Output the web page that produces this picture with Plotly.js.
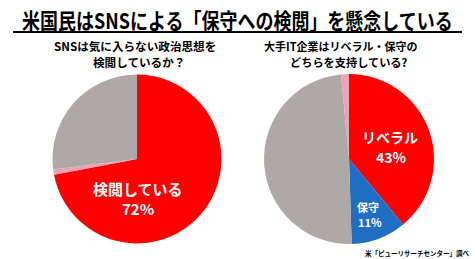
<!DOCTYPE html>
<html>
<head>
<meta charset="utf-8">
<script src="https://cdn.plot.ly/plotly-3.0.1.min.js"></script>
<style>
html,body{margin:0;padding:0;background:#fff;}
#chart{width:475px;height:259px;}
</style>
</head>
<body>
<div id="chart"></div>
<script>
// ---- data ----
const mainTitle = '米国民はSNSによる「保守への検閲」を懸念している';
const leftQuestion = ['SNSは気に入らない政治思想を', '検閲しているか？'];
const rightQuestion = ['大手IT企業はリベラル・保守の', 'どちらを支持している?'];
const leftLabels = ['検閲している', '無回答', 'その他'];
const leftValues = [72, 1, 27];
const leftPctText = ['72%'];
const rightLabels = ['リベラル', '保守', 'その他', '無回答'];
const rightValues = [39, 10.5, 49, 1.5];
const rightPctText = ['43%', '11%'];
const sourceNote = '米「ピューリサーチセンター」調べ';

// ---- helpers ----
const W = 475, H = 259;
const px = x => x / W;
const py = y => 1 - y / H;
const FONT = '"Noto Sans CJK JP", "Noto Sans", sans-serif';

function ann(text, x, y, size, color, extra) {
  return Object.assign({
    text: text, x: px(x), y: py(y), xref: 'paper', yref: 'paper',
    xanchor: 'center', yanchor: 'middle', showarrow: false,
    font: {family: FONT, size: size, color: color, weight: 700}
  }, extra || {});
}

const traces = [
  {
    type: 'pie', labels: leftLabels, values: leftValues,
    sort: false, direction: 'clockwise', rotation: 0,
    textinfo: 'none', hoverinfo: 'label+value',
    marker: {colors: ['#FF0000', '#F4A0B4', '#AEA9A6'], line: {width: 0}},
    domain: {x: [px(137 - 84.5), px(137 + 84.5)], y: [py(159 + 84.5), py(159 - 84.5)]}
  },
  {
    type: 'pie', labels: rightLabels, values: rightValues,
    sort: false, direction: 'clockwise', rotation: 0,
    textinfo: 'none', hoverinfo: 'label+value',
    marker: {colors: ['#FF0000', '#1E6EC6', '#AEA9A6', '#EDA0B6'], line: {width: 0}},
    domain: {x: [px(349 - 85), px(349 + 85)], y: [py(159 + 85), py(159 - 85)]}
  }
];

const annotations = [
  ann(mainTitle, 237.5, 19, 18, '#000'),
  ann(leftQuestion[0], 135, 46, 11.6, '#000'),
  ann(leftQuestion[1], 139, 62, 11.6, '#000'),
  ann(rightQuestion[0], 341, 46, 11, '#000'),
  ann(rightQuestion[1], 349, 62, 11.2, '#000'),
  ann(leftLabels[0], 138, 188, 15, '#fff'),
  ann(leftPctText[0], 138, 208, 15, '#fff'),
  ann(rightLabels[0], 390, 137, 14, '#fff'),
  ann(rightPctText[0], 391, 157, 14, '#fff'),
  ann(rightLabels[1], 368, 206.5, 11, '#fff'),
  ann(rightPctText[1], 370, 222, 11, '#fff'),
  ann(sourceNote, 417, 253, 6.5, '#000')
];

const layout = {
  width: W, height: H,
  margin: {l: 0, r: 0, t: 0, b: 0},
  paper_bgcolor: '#fff', plot_bgcolor: '#fff',
  showlegend: false,
  annotations: annotations,
  shapes: [{
    type: 'line', xref: 'paper', yref: 'paper',
    x0: px(13), x1: px(462), y0: py(32), y1: py(32),
    line: {color: '#000', width: 2}
  }]
};

// vertical stretch of the main title to imitate the condensed lettering of the original
const stretch = {0: 1.2};

Plotly.newPlot('chart', traces, layout, {displayModeBar: false, staticPlot: true}).then(gd => {
  const groups = gd.querySelectorAll('.annotation');
  groups.forEach((g, i) => {
    const s = stretch[i];
    if (!s) return;
    const t = g.querySelector('text.annotation-text');
    if (!t) return;
    const b = t.getBBox();
    const cy = b.y + b.height / 2;
    t.setAttribute('transform', `translate(0 ${cy}) scale(1 ${s}) translate(0 ${-cy})`);
  });
});
</script>
</body>
</html>
